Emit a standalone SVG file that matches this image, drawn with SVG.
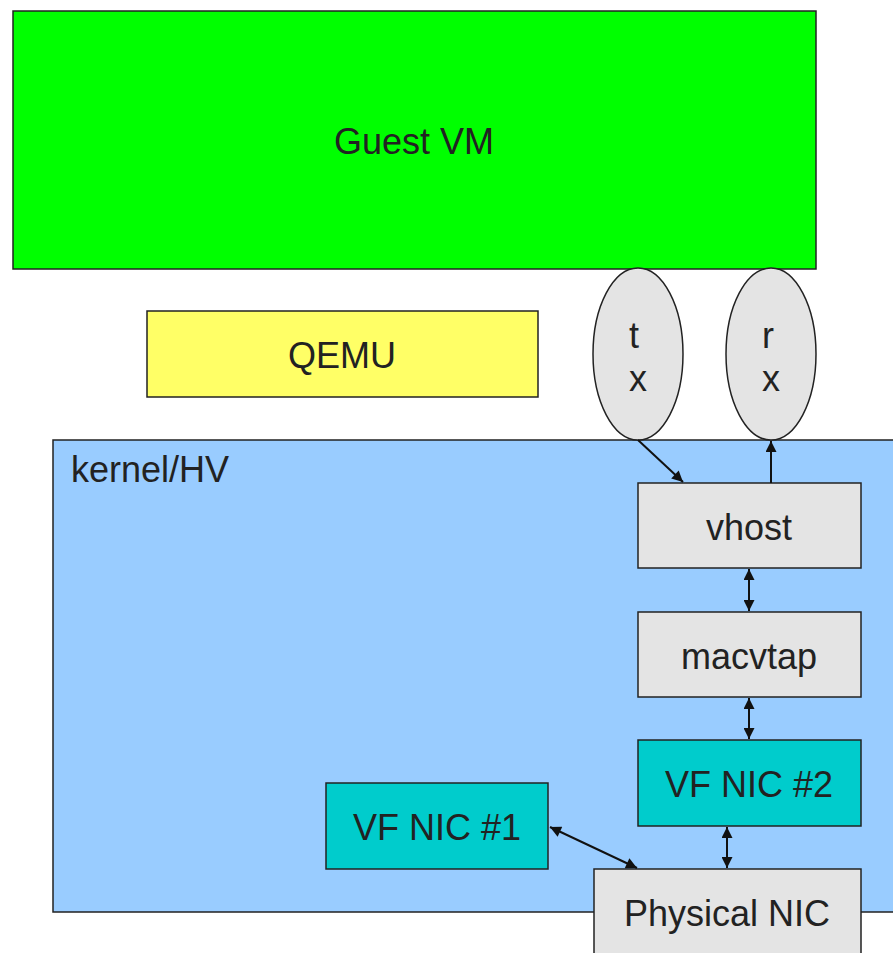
<svg xmlns="http://www.w3.org/2000/svg" width="893" height="953" viewBox="0 0 893 953">
  <style>
    .box { stroke: #222; stroke-width: 1.5; }
    .lbl { font-family: "Liberation Sans", Arial, sans-serif; font-size: 36px; fill: #222; text-anchor: middle; }
    .grey { fill: #e4e4e4; }
    .teal { fill: #00cccc; }
    .link { stroke: #111; stroke-width: 2; fill: none; }
  </style>
  <defs>
    <marker id="ah" viewBox="0 0 10 10" refX="10" refY="5" markerWidth="13" markerHeight="11" orient="auto-start-reverse" markerUnits="userSpaceOnUse">
      <path d="M0,0 L10,5 L0,10 z" fill="#111"/>
    </marker>
  </defs>

  <g id="guest-vm">
    <rect class="box" x="13" y="11" width="803" height="258" fill="#00ff00"/>
    <text class="lbl" x="414" y="154">Guest VM</text>
  </g>

  <g id="qemu">
    <rect class="box" x="147" y="311" width="391" height="86" fill="#ffff66"/>
    <text class="lbl" x="342" y="368">QEMU</text>
  </g>

  <g id="kernel-hv">
    <rect class="box" x="53" y="440" width="850" height="472" fill="#99ccff"/>
    <text class="lbl" x="71" y="482" style="text-anchor:start">kernel/HV</text>
  </g>

  <g id="tx">
    <ellipse class="box grey" cx="638" cy="354" rx="45" ry="86"/>
    <text class="lbl" x="634" y="348">t</text>
    <text class="lbl" x="638" y="391">x</text>
  </g>

  <g id="rx">
    <ellipse class="box grey" cx="771" cy="354" rx="45" ry="86"/>
    <text class="lbl" x="768" y="348">r</text>
    <text class="lbl" x="771" y="391">x</text>
  </g>

  <g id="vhost">
    <rect class="box grey" x="638" y="483" width="223" height="85"/>
    <text class="lbl" x="749" y="540">vhost</text>
  </g>

  <g id="macvtap">
    <rect class="box grey" x="638" y="612" width="223" height="85"/>
    <text class="lbl" x="749" y="669">macvtap</text>
  </g>

  <g id="vf-nic-2">
    <rect class="box teal" x="638" y="740" width="223" height="86"/>
    <text class="lbl" x="749" y="797">VF NIC #2</text>
  </g>

  <g id="vf-nic-1">
    <rect class="box teal" x="326" y="783" width="222" height="86"/>
    <text class="lbl" x="437" y="840">VF NIC #1</text>
  </g>

  <g id="physical-nic">
    <rect class="box grey" x="594" y="869" width="267" height="100"/>
    <text class="lbl" x="727" y="926">Physical NIC</text>
  </g>

  <g id="connectors">
    <line class="link" x1="638" y1="440" x2="683" y2="482" marker-end="url(#ah)"/>
    <line class="link" x1="771" y1="483" x2="771" y2="441" marker-end="url(#ah)"/>
    <line class="link" x1="749" y1="569" x2="749" y2="611" marker-start="url(#ah)" marker-end="url(#ah)"/>
    <line class="link" x1="749" y1="698" x2="749" y2="739" marker-start="url(#ah)" marker-end="url(#ah)"/>
    <line class="link" x1="727" y1="827" x2="727" y2="868" marker-start="url(#ah)" marker-end="url(#ah)"/>
    <line class="link" x1="550" y1="827" x2="637" y2="868" marker-start="url(#ah)" marker-end="url(#ah)"/>
  </g>
</svg>
